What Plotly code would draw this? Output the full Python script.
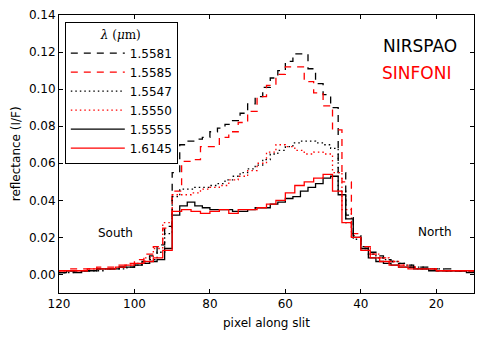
import plotly.graph_objects as go

# pixel positions along the slit
nirspao_px = [120, 118, 116, 114, 112, 110, 108, 106, 104, 102, 100, 98, 96, 94, 92, 90,
              88, 86, 84, 82, 80, 78, 76, 74, 72, 70, 68, 66, 64, 62, 60, 58, 56, 54,
              52, 50, 48, 46, 44, 42, 40, 38, 36, 34, 32, 30, 28, 26, 24, 22, 20, 18,
              16, 14, 12, 10]
sinfoni_px = [120, 117.5, 115, 112.5, 110, 107.5, 105, 102.5, 100, 97.5, 95, 92.5, 90,
              87.5, 85, 82.5, 80, 77.5, 75, 72.5, 70, 67.5, 65, 62.5, 60, 57.5, 55, 52.5,
              50, 47.5, 45, 42.5, 40, 37.5, 35, 32.5, 30, 27.5, 25, 22.5, 20, 17.5, 15,
              12.5, 10]

# NIRSPAO profiles
n_15581 = [0.001, 0.001, 0.002, 0.002, 0.002, 0.002, 0.003, 0.003, 0.003, 0.004, 0.004,
           0.005, 0.007, 0.010, 0.016, 0.026, 0.055, 0.070, 0.072, 0.073, 0.074, 0.077,
           0.079, 0.081, 0.083, 0.087, 0.092, 0.096, 0.101, 0.106, 0.110, 0.115, 0.119,
           0.119, 0.111, 0.103, 0.097, 0.090, 0.055, 0.032, 0.021, 0.015, 0.012, 0.010,
           0.008, 0.007, 0.006, 0.005, 0.004, 0.004, 0.003, 0.003, 0.003, 0.002, 0.002,
           0.002]
n_15547 = [0.001, 0.001, 0.001, 0.002, 0.002, 0.002, 0.002, 0.003, 0.003, 0.003, 0.004,
           0.005, 0.006, 0.008, 0.012, 0.022, 0.042, 0.046, 0.046, 0.047, 0.047, 0.048,
           0.049, 0.051, 0.053, 0.055, 0.057, 0.059, 0.062, 0.065, 0.067, 0.069, 0.071,
           0.072, 0.072, 0.071, 0.070, 0.068, 0.045, 0.028, 0.019, 0.014, 0.011, 0.009,
           0.008, 0.007, 0.006, 0.005, 0.004, 0.004, 0.003, 0.003, 0.002, 0.002, 0.002,
           0.002]
n_15555 = [0.001, 0.001, 0.002, 0.001, 0.002, 0.002, 0.003, 0.003, 0.003, 0.004, 0.004,
           0.005, 0.006, 0.007, 0.008, 0.014, 0.032, 0.037, 0.039, 0.037, 0.036, 0.035,
           0.035, 0.035, 0.034, 0.034, 0.035, 0.036, 0.036, 0.038, 0.039, 0.041, 0.042,
           0.045, 0.047, 0.049, 0.052, 0.053, 0.043, 0.030, 0.020, 0.014, 0.009, 0.007,
           0.006, 0.005, 0.004, 0.004, 0.003, 0.003, 0.002, 0.002, 0.002, 0.002, 0.002,
           0.001]

# SINFONI profiles
s_15585 = [0.002, 0.002, 0.003, 0.003, 0.003, 0.004, 0.004, 0.005, 0.006, 0.008, 0.011,
           0.015, 0.025, 0.045, 0.061, 0.062, 0.069, 0.069, 0.074, 0.077, 0.082, 0.088,
           0.096, 0.102, 0.108, 0.112, 0.112, 0.104, 0.098, 0.091, 0.078, 0.050, 0.022,
           0.015, 0.011, 0.009, 0.007, 0.005, 0.004, 0.003, 0.003, 0.002, 0.002, 0.002,
           0.002]
s_15550 = [0.002, 0.002, 0.002, 0.002, 0.003, 0.003, 0.003, 0.004, 0.005, 0.006, 0.009,
           0.014, 0.028, 0.043, 0.043, 0.044, 0.046, 0.047, 0.048, 0.051, 0.053, 0.056,
           0.060, 0.066, 0.070, 0.069, 0.067, 0.065, 0.066, 0.065, 0.055, 0.035, 0.020,
           0.014, 0.011, 0.009, 0.007, 0.005, 0.004, 0.003, 0.003, 0.002, 0.002, 0.002,
           0.002]
s_16145 = [0.002, 0.002, 0.002, 0.002, 0.003, 0.003, 0.003, 0.004, 0.005, 0.006, 0.007,
           0.009, 0.013, 0.034, 0.035, 0.034, 0.033, 0.034, 0.035, 0.033, 0.035, 0.035,
           0.036, 0.038, 0.040, 0.044, 0.048, 0.050, 0.052, 0.054, 0.045, 0.028, 0.020,
           0.013, 0.009, 0.007, 0.005, 0.004, 0.003, 0.003, 0.003, 0.002, 0.002, 0.002,
           0.002]

x_ticks = [120, 100, 80, 60, 40, 20]
y_ticks = [0.00, 0.02, 0.04, 0.06, 0.08, 0.10, 0.12, 0.14]

series = [
    ("1.5581", nirspao_px, n_15581, "black", "7px,6px"),
    ("1.5585", sinfoni_px, s_15585, "red", "7px,6px"),
    ("1.5547", nirspao_px, n_15547, "black", "1.5px,3px"),
    ("1.5550", sinfoni_px, s_15550, "red", "1.5px,3px"),
    ("1.5555", nirspao_px, n_15555, "black", "solid"),
    ("1.6145", sinfoni_px, s_16145, "red", "solid"),
]

FONT = "DejaVu Sans"

fig = go.Figure()
for name, xs, ys, col, dash in series:
    fig.add_trace(go.Scatter(
        x=xs, y=ys, name=name, mode="lines",
        line=dict(color=col, width=1.3, dash=dash, shape="vh"),
    ))

fig.add_annotation(x=34.6, y=0.1232, text="NIRSPAO", showarrow=False, xanchor="left",
                   font=dict(family=FONT, size=17, color="black"))
fig.add_annotation(x=34.8, y=0.1086, text="SINFONI", showarrow=False, xanchor="left",
                   font=dict(family=FONT, size=17, color="red"))
fig.add_annotation(x=105.1, y=0.0222, text="South", showarrow=False,
                   font=dict(family=FONT, size=12, color="black"))
fig.add_annotation(x=20.4, y=0.0227, text="North", showarrow=False,
                   font=dict(family=FONT, size=12, color="black"))

# axis titles placed by hand so the margins stay fixed
fig.add_annotation(xref="paper", yref="paper", x=0.5, y=-0.108, text="pixel along slit",
                   showarrow=False, yanchor="middle", font=dict(family=FONT, size=12))
fig.add_annotation(xref="paper", yref="paper", x=-0.103, y=0.5, text="reflectance (I/F)",
                   showarrow=False, textangle=-90, xanchor="center",
                   font=dict(family=FONT, size=12))

axis_common = dict(
    showline=True, linecolor="black", linewidth=1, mirror="allticks",
    ticks="inside", ticklen=4, tickcolor="black", showgrid=False, zeroline=False,
    automargin=False, tickfont=dict(family=FONT, size=12, color="black"),
)

# the page body adds an 8px offset, so the figure is sized to fit the window
fig.update_layout(
    width=476, height=329,
    margin=dict(l=51, r=10, t=7, b=44),
    plot_bgcolor="white", paper_bgcolor="white",
    font=dict(family=FONT, size=12, color="black"),
    xaxis=dict(range=[120, 10], tickvals=x_ticks, **axis_common),
    yaxis=dict(range=[-0.01, 0.14], tickvals=y_ticks, tickformat=".2f", **axis_common),
    legend=dict(
        x=0.014, y=0.975, xanchor="left", yanchor="top",
        bgcolor="white", bordercolor="black", borderwidth=1,
        font=dict(family=FONT, size=12),
        title=dict(text="<i>λ</i> (<i>μ</i>m)", side="top center",
                   font=dict(family="DejaVu Serif", size=12)),
        tracegroupgap=0, itemwidth=54,
    ),
)

fig.write_html("out.html")
